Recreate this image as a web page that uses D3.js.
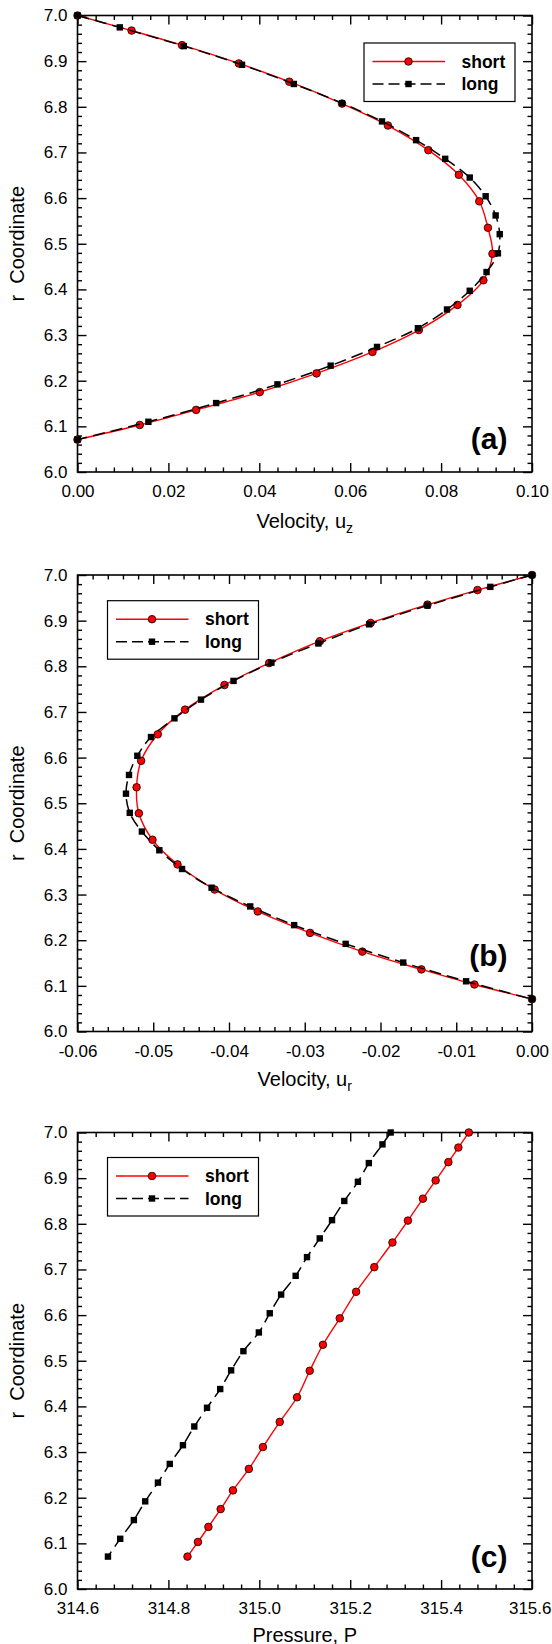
<!DOCTYPE html>
<html><head><meta charset="utf-8">
<script src="https://cdn.jsdelivr.net/npm/d3@7"></script>
<style>
body{margin:0;background:#fff}
svg{display:block}
text{font-family:"Liberation Sans",Arial,Helvetica,sans-serif}
</style>
</head><body>
<script>
// ---------- data ----------
const rShort = [7.000, 6.967, 6.935, 6.895, 6.855, 6.807, 6.759, 6.705, 6.651, 6.593, 6.535,
                6.478, 6.420, 6.366, 6.311, 6.263, 6.216, 6.175, 6.136, 6.103, 6.071];
const rLong  = [7.000, 6.974, 6.933, 6.892, 6.850, 6.808, 6.768, 6.727, 6.686, 6.645, 6.604, 6.562,
                6.521, 6.479, 6.438, 6.397, 6.356, 6.315, 6.274, 6.233, 6.192, 6.151, 6.110, 6.071];

const uzShort = [0, 0.0119, 0.0230, 0.0355, 0.0466, 0.0582, 0.0683, 0.0772, 0.0839, 0.0884, 0.0903,
                 0.0913, 0.0893, 0.0836, 0.0751, 0.0649, 0.0526, 0.0401, 0.0261, 0.0137, 0];
const uzLong  = [0, 0.0093, 0.0234, 0.0362, 0.0476, 0.0582, 0.0670, 0.0745, 0.0809, 0.0863, 0.0898, 0.0920,
                 0.0929, 0.0925, 0.0900, 0.0863, 0.0813, 0.0749, 0.0659, 0.0557, 0.0440, 0.0305, 0.0156, 0];

const urShort = [0, -0.0072, -0.0138, -0.0213, -0.0280, -0.0347, -0.0406, -0.0458, -0.0494, -0.0516, -0.0522,
                 -0.0519, -0.0501, -0.0468, -0.0419, -0.0362, -0.0293, -0.0224, -0.0146, -0.0076, 0];
const urLong  = [0, -0.0055, -0.0138, -0.0215, -0.0282, -0.0344, -0.0394, -0.0437, -0.0472, -0.0503, -0.0521, -0.0532,
                 -0.0536, -0.0531, -0.0515, -0.0492, -0.0462, -0.0423, -0.0372, -0.0314, -0.0246, -0.0170, -0.0087, 0];

const pShort = [315.461, 315.438, 315.416, 315.388, 315.360, 315.327, 315.293, 315.253, 315.213, 315.177, 315.140,
                315.111, 315.083, 315.045, 315.008, 314.977, 314.942, 314.915, 314.888, 314.865, 314.842];
const pLong  = [315.289, 315.271, 315.241, 315.217, 315.187, 315.160, 315.133, 315.105, 315.080, 315.048, 315.023, 314.999,
                314.965, 314.938, 314.914, 314.885, 314.857, 314.832, 314.803, 314.777, 314.749, 314.724, 314.694, 314.667];

const rTicks  = [6.0, 6.1, 6.2, 6.3, 6.4, 6.5, 6.6, 6.7, 6.8, 6.9, 7.0];
const uzTicks = [0.00, 0.02, 0.04, 0.06, 0.08, 0.10];
const urTicks = [-0.06, -0.05, -0.04, -0.03, -0.02, -0.01, 0.00];
const pTicks  = [314.6, 314.8, 315.0, 315.2, 315.4, 315.6];

const seriesNames = ["short", "long"];
const axisTitles = [["Velocity, u", "z"], ["Velocity, u", "r"], ["Pressure, P", ""]];
const yTitle = "r  Coordinate";
const panelLabels = ["(a)", "(b)", "(c)"];

// ---------- layout ----------
const WIDTH = 552, HEIGHT = 1644;
const L = 77.5, PW = 454.5, PH = 456.5;
const panels = [
  {top: 15.5, xv: [uzShort, uzLong], ticks: uzTicks, minors: 5, dec: 2, title: axisTitles[0], label: panelLabels[0],
   legend: {x: 286.5, y: 27.5}, labelY: PH - 23.5, titleY: PH + 55.5},
  {top: 575, xv: [urShort, urLong], ticks: urTicks, minors: 5, dec: 2, title: axisTitles[1], label: panelLabels[1],
   legend: {x: 30, y: 25.7}, labelY: PH - 65.5, titleY: PH + 54.5},
  {top: 1132.5, xv: [pShort, pLong], ticks: pTicks, minors: 5, dec: 1, title: axisTitles[2], label: panelLabels[2],
   legend: {x: 30, y: 25}, labelY: PH - 22.5, titleY: PH + 52.5}
];

const svg = d3.select("body").append("svg").attr("width", WIDTH).attr("height", HEIGHT);
const FONT = '"Liberation Sans",Arial,Helvetica,sans-serif';
const DASH = "12,6";

function minorsOf(ticks, n) {
  const out = [];
  for (let i = 0; i < ticks.length - 1; i++) {
    const a = ticks[i], b = ticks[i + 1];
    for (let k = 1; k < n; k++) out.push(a + (b - a) * k / n);
  }
  return out;
}

function styleAxis(g) {
  g.select(".domain").remove();
  g.selectAll("line").attr("stroke", "#000").attr("stroke-width", 1.4);
  g.attr("font-family", FONT).attr("font-size", 17);
  g.selectAll("text").attr("fill", "#000");
}

// keep tick labels inside the page (shift the last one left if it would overflow)
function keepInside(g) {
  g.selectAll("text").each(function () {
    const b = this.getBoundingClientRect();
    const over = b.right - (WIDTH - 0.5);
    if (over > 0) d3.select(this).attr("x", -over);
  });
}

panels.forEach((p) => {
  const g = svg.append("g").attr("transform", `translate(${L},${p.top})`);
  const x = d3.scaleLinear().domain([p.ticks[0], p.ticks[p.ticks.length - 1]]).range([0, PW]);
  const y = d3.scaleLinear().domain([rTicks[0], rTicks[rTicks.length - 1]]).range([PH, 0]);
  const xMin = minorsOf(p.ticks, p.minors);
  const yMin = minorsOf(rTicks, 5);
  const fx = d => Math.abs(d) < 1e-12 ? (0).toFixed(p.dec) : d.toFixed(p.dec);
  const fy = d => d.toFixed(1);

  // major & minor ticks, inward on all four sides
  g.append("g").attr("transform", `translate(0,${PH})`)
    .call(d3.axisBottom(x).tickValues(p.ticks).tickSize(-9).tickPadding(13).tickFormat(fx))
    .call(styleAxis).call(keepInside);
  g.append("g").attr("transform", `translate(0,${PH})`)
    .call(d3.axisBottom(x).tickValues(xMin).tickSize(-4.5).tickFormat("")).call(styleAxis);
  g.append("g").call(d3.axisTop(x).tickValues(p.ticks).tickSize(-9).tickFormat("")).call(styleAxis);
  g.append("g").call(d3.axisTop(x).tickValues(xMin).tickSize(-4.5).tickFormat("")).call(styleAxis);
  g.append("g").call(d3.axisLeft(y).tickValues(rTicks).tickSize(-9).tickPadding(10).tickFormat(fy)).call(styleAxis);
  g.append("g").call(d3.axisLeft(y).tickValues(yMin).tickSize(-4.5).tickFormat("")).call(styleAxis);
  g.append("g").attr("transform", `translate(${PW},0)`)
    .call(d3.axisRight(y).tickValues(rTicks).tickSize(-9).tickFormat("")).call(styleAxis);
  g.append("g").attr("transform", `translate(${PW},0)`)
    .call(d3.axisRight(y).tickValues(yMin).tickSize(-4.5).tickFormat("")).call(styleAxis);

  // frame
  g.append("rect").attr("width", PW).attr("height", PH)
    .attr("fill", "none").attr("stroke", "#000").attr("stroke-width", 1.6);

  const line = d3.line().x(d => x(d[0])).y(d => y(d[1])).curve(d3.curveCatmullRom.alpha(0.5));
  const sData = p.xv[0].map((v, i) => [v, rShort[i]]);
  const lData = p.xv[1].map((v, i) => [v, rLong[i]]);

  // short (red, solid, circles)
  g.append("path").datum(sData).attr("d", line)
    .attr("fill", "none").attr("stroke", "#ff0000").attr("stroke-width", 1.4);
  g.selectAll(".cs").data(sData).enter().append("circle")
    .attr("cx", d => x(d[0])).attr("cy", d => y(d[1])).attr("r", 3.8)
    .attr("fill", "#ff0000").attr("stroke", "#000").attr("stroke-width", 0.8);

  // long (black, dashed, squares)
  g.append("path").datum(lData).attr("d", line)
    .attr("fill", "none").attr("stroke", "#000").attr("stroke-width", 1.5).attr("stroke-dasharray", DASH);
  g.selectAll(".sq").data(lData).enter().append("rect")
    .attr("x", d => x(d[0]) - 3.2).attr("y", d => y(d[1]) - 3.2)
    .attr("width", 6.4).attr("height", 6.4).attr("fill", "#000");

  // legend
  const lg = g.append("g").attr("transform", `translate(${p.legend.x},${p.legend.y})`);
  lg.append("rect").attr("width", 151).attr("height", 58.5)
    .attr("fill", "#fff").attr("stroke", "#000").attr("stroke-width", 1.2);
  const rows = [18.5, 41];
  lg.append("line").attr("x1", 8.5).attr("x2", 81).attr("y1", rows[0]).attr("y2", rows[0])
    .attr("stroke", "#ff0000").attr("stroke-width", 1.4);
  lg.append("circle").attr("cx", 44.5).attr("cy", rows[0]).attr("r", 3.8)
    .attr("fill", "#ff0000").attr("stroke", "#000").attr("stroke-width", 0.8);
  lg.append("line").attr("x1", 8.5).attr("x2", 81).attr("y1", rows[1]).attr("y2", rows[1])
    .attr("stroke", "#000").attr("stroke-width", 1.5).attr("stroke-dasharray", "11,5");
  lg.append("rect").attr("x", 44.5 - 3.2).attr("y", rows[1] - 3.2).attr("width", 6.4).attr("height", 6.4).attr("fill", "#000");
  seriesNames.forEach((n, i) => {
    lg.append("text").attr("x", 97.5).attr("y", rows[i]).attr("dy", "0.35em")
      .attr("font-size", 17.5).attr("font-weight", "bold").attr("fill", "#000").text(n);
  });

  // panel label
  g.append("text").attr("x", 430).attr("y", p.labelY).attr("text-anchor", "end")
    .attr("font-size", 30).attr("font-weight", "bold").attr("fill", "#000").text(p.label);

  // x title
  const xt = g.append("text").attr("x", PW / 2).attr("y", p.titleY).attr("text-anchor", "middle")
    .attr("font-size", 20).attr("fill", "#000");
  xt.append("tspan").text(p.title[0]);
  if (p.title[1]) xt.append("tspan").attr("dy", 5).attr("font-size", 14).text(p.title[1]);

  // y title
  g.append("text").attr("transform", `translate(${24 - L},${PH / 2}) rotate(-90)`)
    .attr("text-anchor", "middle").attr("font-size", 20).attr("fill", "#000")
    .style("white-space", "pre").text(yTitle);
});
</script>
</body></html>
